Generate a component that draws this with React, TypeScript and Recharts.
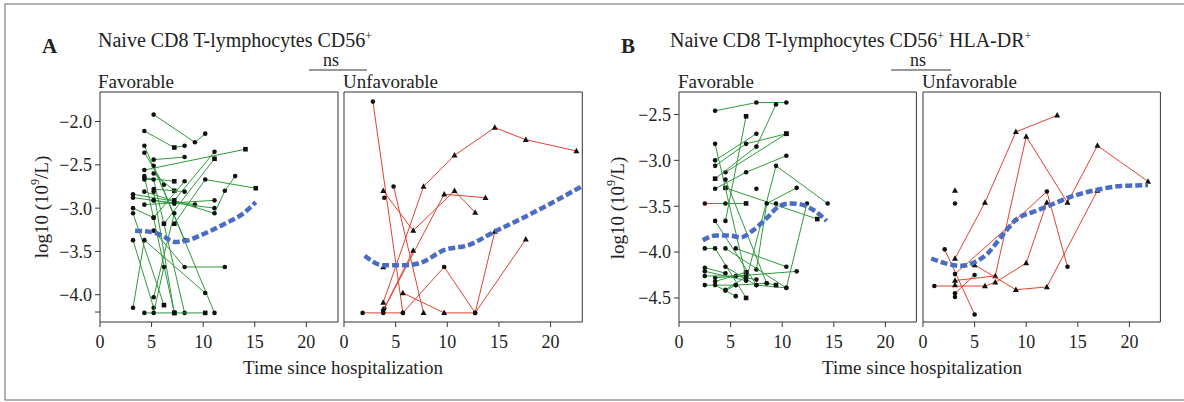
import React from 'react';
import { ScatterChart, Scatter, XAxis, YAxis, ReferenceArea } from 'recharts';

type Pt = [number, number, string?];

const FONT = '"Liberation Serif", "Times New Roman", serif';
const INK = '#222';
const AXIS = '#333';
const GREEN = '#2f9a3c';
const RED = '#e2412f';
const BLUE = '#4a6cc2';

const xTicks = [0, 5, 10, 15, 20];
const yTicksA = [-4.2, -4, -3.5, -3, -2.5, -2];
const yTicksB = [-4.5, -4, -3.5, -3, -2.5];

// A: Naive CD8 T-lymphocytes CD56+
const aFavorable: Pt[][] = [
  [[5.2, -1.92], [9.2, -2.24], [10.2, -2.14]],
  [[4.3, -2.11], [7.2, -2.3, 's'], [8.2, -2.28]],
  [[4.3, -2.28], [8.2, -3.37]],
  [[4.3, -2.36], [6.2, -2.73]],
  [[5.2, -2.44], [8.2, -2.41]],
  [[4.3, -2.56], [14.1, -2.32, 's']],
  [[5.2, -2.51], [11.1, -4.21]],
  [[4.3, -2.63], [7.2, -4.21, 's']],
  [[4.3, -2.65], [7.2, -2.69, 's']],
  [[4.3, -2.67], [5.2, -2.67], [8.2, -4.21]],
  [[3.2, -2.84], [9.2, -2.96]],
  [[7.2, -3.18, 's'], [10.2, -2.67], [15.1, -2.77, 's']],
  [[3.2, -2.88], [5.2, -2.91], [11.1, -3.0]],
  [[3.2, -3.0], [5.2, -3.11]],
  [[3.2, -3.06], [6.2, -4.12, 's']],
  [[3.2, -3.37], [5.2, -4.15]],
  [[3.2, -4.15], [4.3, -3.37], [10.2, -3.98]],
  [[4.3, -2.81], [11.1, -3.06], [12.1, -2.8], [13.1, -2.63]],
  [[4.3, -2.96], [11.1, -2.91]],
  [[4.3, -4.21], [7.2, -4.21, 's'], [10.2, -4.21, 's']],
  [[7.2, -2.91, 's'], [11.1, -2.35]],
  [[6.2, -3.18, 's'], [11.1, -2.43, 's']],
  [[5.2, -2.6], [7.2, -2.8, 's']],
  [[5.2, -2.78], [8.2, -2.81]],
  [[5.2, -2.81], [7.2, -4.21]],
  [[5.2, -2.91], [7.2, -2.95]],
  [[5.2, -3.11], [8.2, -2.69]],
  [[5.2, -3.26], [8.2, -3.68], [12.1, -3.68]],
  [[5.2, -4.03], [7.2, -3.06]],
  [[5.2, -4.21], [6.2, -3.68]],
];

const aUnfavorable: Pt[][] = [
  [[2.8, -1.77, 'o'], [5.7, -4.21, 'o']],
  [[3.8, -2.8], [6.7, -3.26], [10.7, -2.8], [12.7, -3.05]],
  [[4.8, -2.75, 'o'], [7.7, -4.21]],
  [[3.9, -2.88, 'o']],
  [[3.8, -4.09], [7.7, -2.75], [10.7, -2.39], [14.6, -2.07], [17.6, -2.21], [22.5, -2.34]],
  [[3.9, -4.16, 'o'], [9.7, -2.84], [13.7, -2.88]],
  [[3.8, -4.18, 'o'], [6.7, -3.49]],
  [[1.8, -4.21, 'o'], [3.8, -4.21, 'o'], [5.7, -4.21, 'o'], [9.7, -3.68, 'o'], [12.7, -4.21, 'o'], [14.6, -3.27]],
  [[5.7, -3.98], [9.7, -4.21], [12.7, -4.21, 'o'], [17.6, -3.36]],
  [[3.8, -3.68]],
];

// B: Naive CD8 T-lymphocytes CD56+ HLA-DR+
const bFavorable: Pt[][] = [
  [[3.5, -2.46], [7.5, -2.37], [10.4, -2.37]],
  [[3.5, -3.0], [7.5, -2.71]],
  [[4.5, -3.13], [10.4, -2.71, 's']],
  [[4.5, -3.66], [6.5, -2.52, 's']],
  [[3.5, -3.2, 's'], [7.5, -2.85], [9.4, -2.39]],
  [[3.5, -3.31], [6.5, -3.13], [10.4, -2.95]],
  [[6.5, -4.31], [9.4, -3.06], [14.4, -3.47]],
  [[4.5, -3.3, 's'], [13.4, -3.64, 's']],
  [[2.5, -3.47], [4.5, -3.47], [6.5, -3.47, 's']],
  [[7.5, -4.19], [8.5, -3.47], [11.4, -3.3]],
  [[3.5, -3.66], [7.5, -4.36], [10.4, -4.39], [12.4, -3.47]],
  [[5.5, -3.96], [10.4, -4.16]],
  [[2.5, -3.96], [3.5, -3.96], [6.5, -4.5, 's']],
  [[3.5, -4.28], [11.4, -4.21]],
  [[2.5, -4.26], [5.5, -4.26], [7.5, -4.3]],
  [[2.5, -4.36], [5.5, -4.36], [8.5, -4.34], [9.4, -4.36, 's']],
  [[3.5, -4.32], [6.5, -4.22, 's']],
  [[3.5, -4.36], [5.5, -4.48]],
  [[4.5, -4.41], [6.5, -4.27, 's']],
  [[4.5, -4.42], [5.5, -4.36]],
  [[4.5, -4.16], [7.5, -4.36]],
  [[3.5, -2.82], [6.5, -4.27]],
  [[3.5, -3.06], [6.5, -2.82], [10.4, -2.71, 's']],
  [[4.5, -3.21], [8.5, -4.34]],
  [[7.5, -3.31]],
  [[9.4, -3.47]],
  [[2.5, -4.17], [4.5, -4.23]],
  [[2.5, -4.21], [6.5, -4.31]],
  [[4.5, -3.96], [10.4, -4.39]],
];

const bUnfavorable: Pt[][] = [
  [[3.1, -4.07], [6.0, -3.46], [9.0, -2.69], [13.0, -2.51]],
  [[2.1, -3.97, 'o'], [5.0, -4.68, 'o']],
  [[3.1, -4.31], [7.0, -4.26], [10.0, -2.74], [14.0, -3.46], [16.9, -2.84], [21.8, -3.23]],
  [[3.1, -4.24, 'o'], [9.0, -3.65, 'o'], [12.0, -3.34, 'o'], [14.0, -4.16, 'o']],
  [[5.0, -4.14], [9.0, -4.41], [12.0, -4.38], [16.9, -3.33]],
  [[1.1, -4.37, 'o'], [6.0, -4.37], [7.0, -4.33], [10.0, -4.12], [12.0, -3.46]],
  [[3.1, -4.45, 'o'], [5.0, -4.25, 'o']],
  [[3.1, -3.33]],
  [[3.1, -3.47, 'o']],
  [[3.1, -4.49, 'o']],
  [[3.1, -4.36]],
];

// smoothed group trends
const trendAFav: Pt[] = [[3.4, -3.26], [5.2, -3.28], [6.2, -3.33], [7.2, -3.39], [8.2, -3.38], [10.2, -3.29], [12.1, -3.18], [13.9, -3.06], [15.1, -2.93]];
const trendAUnfav: Pt[] = [[2.0, -3.55], [3.8, -3.66], [5.7, -3.66], [7.2, -3.64], [9.8, -3.48], [12.0, -3.43], [14.6, -3.27], [17.2, -3.12], [19.8, -2.96], [23.0, -2.75]];
const trendBFav: Pt[] = [[2.3, -3.87], [3.6, -3.82], [4.9, -3.82], [6.0, -3.84], [7.2, -3.76], [8.5, -3.63], [9.7, -3.5], [10.7, -3.47], [11.8, -3.48], [13.0, -3.54], [14.3, -3.66]];
const trendBUnfav: Pt[] = [[0.8, -4.07], [2.1, -4.12], [3.7, -4.15], [5.0, -4.11], [6.3, -4.01], [7.6, -3.83], [9.2, -3.63], [10.5, -3.57], [12.1, -3.5], [14.0, -3.41], [16.9, -3.32], [19.2, -3.28], [21.8, -3.27]];

const toRows = (path: Pt[], def: string) => path.map(([t, v, s]) => ({ t, v, s: s ?? def }));

const fmtY = (v: number) => (Math.abs(v + 4.2) < 1e-6 ? '' : '\u2212' + Math.abs(v).toFixed(1));

const marker = (props: any) => {
  const { cx, cy, payload } = props;
  if (cx == null || cy == null) return <g />;
  if (payload.s === 's') return <rect x={cx - 2.3} y={cy - 2.3} width={4.6} height={4.6} fill="#111" />;
  if (payload.s === 't')
    return <polygon points={`${cx},${cy - 3.3} ${cx - 3},${cy + 2.2} ${cx + 3},${cy + 2.2}`} fill="#111" />;
  return <circle cx={cx} cy={cy} r={2.3} fill="#111" />;
};

const tickStyle = { fontSize: 18, fill: INK, fontFamily: FONT };

function Panel(props: {
  paths: Pt[][];
  trend: Pt[];
  color: string;
  sym: string;
  left: number;
  width: number;
  xMax: number;
  yDomain: [number, number];
  yTicks: number[];
  showY: boolean;
}) {
  const { paths, trend, color, sym, left, width, xMax, yDomain, yTicks, showY } = props;
  return (
    <div style={{ position: 'absolute', left, top: 80 }}>
      <ScatterChart width={width} height={282} margin={{ top: 12, right: 2, bottom: 0, left: showY ? 0 : 12 }}>
        <XAxis
          type="number"
          dataKey="t"
          domain={[0, xMax]}
          allowDataOverflow
          ticks={xTicks}
          interval={0}
          tickSize={5}
          tickMargin={8}
          height={40}
          axisLine={false}
          tickLine={{ stroke: AXIS }}
          tick={tickStyle}
        />
        <YAxis
          type="number"
          dataKey="v"
          domain={yDomain}
          allowDataOverflow
          ticks={yTicks}
          interval={0}
          hide={!showY}
          width={60}
          tickSize={5}
          tickMargin={3}
          axisLine={false}
          tickLine={{ stroke: AXIS }}
          tick={tickStyle}
          tickFormatter={fmtY}
        />
        <ReferenceArea
          x1={0}
          x2={xMax}
          y1={yDomain[0]}
          y2={yDomain[1]}
          ifOverflow="visible"
          fill="none"
          fillOpacity={0}
          stroke={AXIS}
          strokeWidth={1}
          strokeOpacity={1}
        />
        {paths.map((p, i) => (
          <Scatter
            key={i}
            data={toRows(p, sym)}
            fill={color}
            stroke={color}
            line={{ stroke: color, strokeWidth: 1 }}
            shape={marker}
            isAnimationActive={false}
          />
        ))}
        <Scatter
          data={toRows(trend, 'o')}
          fill={BLUE}
          stroke={BLUE}
          line={{ stroke: BLUE, strokeWidth: 4.5, strokeDasharray: '7 3' }}
          lineJointType="monotoneX"
          shape={() => <g />}
          isAnimationActive={false}
        />
      </ScatterChart>
    </div>
  );
}

const txt = { fontFamily: FONT, fill: INK, fontSize: 19 } as const;

export default function App() {
  const domA: [number, number] = [-4.315, -1.659];
  const domB: [number, number] = [-4.762, -2.255];
  return (
    <div style={{ position: 'absolute', left: 0, top: 0, width: 1184, height: 402, background: '#fff' }}>
      <Panel paths={aFavorable} trend={trendAFav} color={GREEN} sym="o" left={40} width={300} xMax={23.07} yDomain={domA} yTicks={yTicksA} showY />
      <Panel paths={aUnfavorable} trend={trendAUnfav} color={RED} sym="t" left={332} width={252.3} xMax={23.07} yDomain={domA} yTicks={yTicksA} showY={false} />
      <Panel paths={bFavorable} trend={trendBFav} color={GREEN} sym="o" left={619.3} width={299.4} xMax={23} yDomain={domB} yTicks={yTicksB} showY />
      <Panel paths={bUnfavorable} trend={trendBUnfav} color={RED} sym="t" left={911.3} width={251.4} xMax={23} yDomain={domB} yTicks={yTicksB} showY={false} />

      <svg width={1184} height={402} style={{ position: 'absolute', left: 0, top: 0, pointerEvents: 'none' }}>
        <rect x={5} y={4} width={1190} height={396} fill="none" stroke="#666" strokeWidth={1} />

        <text x={42} y={53} {...txt} fontSize={21} fontWeight="bold">A</text>
        <text x={98} y={47} {...txt} fontSize={20}>
          Naive CD8 T-lymphocytes CD56<tspan dy={-7} fontSize={12}>+</tspan>
        </text>
        <text x={331} y={66} {...txt} fontSize={18} textAnchor="middle">ns</text>
        <line x1={309} x2={367} y1={70} y2={70} stroke={AXIS} strokeWidth={1} />
        <text x={98} y={88} {...txt}>Favorable</text>
        <text x={343} y={88} {...txt}>Unfavorable</text>

        <text x={621} y={53} {...txt} fontSize={21} fontWeight="bold">B</text>
        <text x={670} y={47} {...txt} fontSize={20}>
          Naive CD8 T-lymphocytes CD56<tspan dy={-7} fontSize={12}>+</tspan>
          <tspan dy={7}> HLA-DR</tspan>
          <tspan dy={-7} fontSize={12}>+</tspan>
        </text>
        <text x={918} y={66} {...txt} fontSize={18} textAnchor="middle">ns</text>
        <line x1={891} x2={951} y1={70} y2={70} stroke={AXIS} strokeWidth={1} />
        <text x={678} y={88} {...txt}>Favorable</text>
        <text x={922} y={88} {...txt}>Unfavorable</text>

        <text x={41} y={207} {...txt} textAnchor="middle" dominantBaseline="central" transform="rotate(-90 41 207)">
          log10 (10<tspan dy={-6} fontSize={12}>9</tspan><tspan dy={6}>/L)</tspan>
        </text>
        <text x={617} y={208} {...txt} textAnchor="middle" dominantBaseline="central" transform="rotate(-90 617 208)">
          log10 (10<tspan dy={-6} fontSize={12}>9</tspan><tspan dy={6}>/L)</tspan>
        </text>

        <text x={343} y={374} {...txt} textAnchor="middle">Time since hospitalization</text>
        <text x={922} y={374} {...txt} textAnchor="middle">Time since hospitalization</text>
      </svg>
    </div>
  );
}
